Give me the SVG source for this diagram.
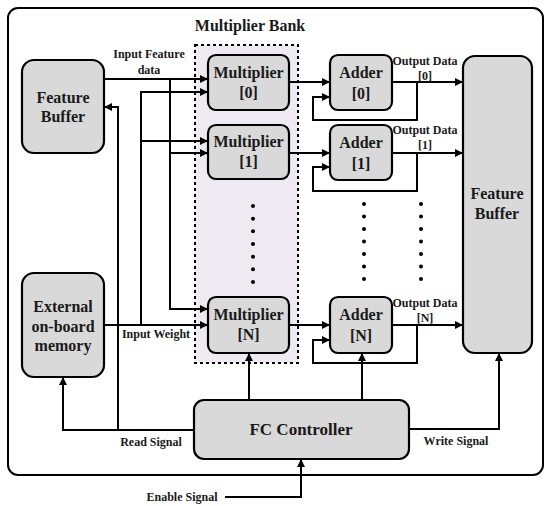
<svg xmlns="http://www.w3.org/2000/svg" width="550" height="506" viewBox="0 0 550 506">
<defs>
<marker id="ah" viewBox="0 0 10 10" refX="10" refY="5" markerWidth="8" markerHeight="8" markerUnits="userSpaceOnUse" orient="auto">
<path d="M0,0 L10,5 L0,10 Z" fill="#000"/>
</marker>
<style>
.box{fill:#d9d9d9;stroke:#000;stroke-width:2.2}
.ln{fill:none;stroke:#000;stroke-width:2}
.t{font-family:"Liberation Serif","Times New Roman",serif;font-weight:bold;fill:#1a1a1a;text-anchor:middle}
.big{font-size:16px}
.sm{font-size:12px}
.dot{fill:#000}
</style>
</defs>
<rect width="550" height="506" fill="#fff"/>
<rect x="8" y="8" width="535" height="467" rx="10" fill="#fff" stroke="#000" stroke-width="2"/>
<g id="bank">
<rect x="195" y="45" width="103" height="318" fill="#efeaf2" stroke="#000" stroke-width="2" stroke-dasharray="3,3"/>
<text class="t big" x="250" y="31">Multiplier Bank</text>
</g>
<g id="connectors">
<path class="ln" d="M104,79 H208" marker-end="url(#ah)"/>
<path class="ln" d="M170,79 V309 H208" marker-end="url(#ah)"/>
<path class="ln" d="M170,153 H208" marker-end="url(#ah)"/>
<path class="ln" d="M104,325 H208" marker-end="url(#ah)"/>
<path class="ln" d="M141,325 V92 H208" marker-end="url(#ah)"/>
<path class="ln" d="M141,141 H208" marker-end="url(#ah)"/>
<path class="ln" d="M194,430 H63 V377" marker-end="url(#ah)"/>
<path class="ln" d="M118,430 V107 H104" marker-end="url(#ah)"/>
<path class="ln" d="M289,82 H330" marker-end="url(#ah)"/>
<path class="ln" d="M289,153 H330" marker-end="url(#ah)"/>
<path class="ln" d="M289,325 H330" marker-end="url(#ah)"/>
<path class="ln" d="M392,82 H463" marker-end="url(#ah)"/>
<path class="ln" d="M417,82 V120 H313 V97 H330" marker-end="url(#ah)"/>
<path class="ln" d="M392,153 H463" marker-end="url(#ah)"/>
<path class="ln" d="M417,153 V191 H313 V167 H330" marker-end="url(#ah)"/>
<path class="ln" d="M392,325 H463" marker-end="url(#ah)"/>
<path class="ln" d="M417,325 V363 H313 V340 H330" marker-end="url(#ah)"/>
<path class="ln" d="M249,400 V353" marker-end="url(#ah)"/>
<path class="ln" d="M362,400 V353" marker-end="url(#ah)"/>
<path class="ln" d="M409,429 H499 V353" marker-end="url(#ah)"/>
<path class="ln" d="M225,497 H301 V459" marker-end="url(#ah)"/>
<text class="t sm" x="149" y="58">Input Feature</text>
<text class="t sm" x="149" y="74">data</text>
<text class="t sm" x="156" y="338">Input Weight</text>
<text class="t sm" x="425" y="65">Output Data</text>
<text class="t sm" x="425" y="80">[0]</text>
<text class="t sm" x="425" y="134">Output Data</text>
<text class="t sm" x="425" y="149">[1]</text>
<text class="t sm" x="425" y="307">Output Data</text>
<text class="t sm" x="425" y="322">[N]</text>
<text class="t sm" x="151" y="446">Read Signal</text>
<text class="t sm" x="456" y="445">Write Signal</text>
<text class="t sm" x="182" y="501">Enable Signal</text>
</g>
<g id="dots">
<circle class="dot" cx="253" cy="206" r="2"/><circle class="dot" cx="253" cy="218.7" r="2"/><circle class="dot" cx="253" cy="231.3" r="2"/><circle class="dot" cx="253" cy="244" r="2"/><circle class="dot" cx="253" cy="256.7" r="2"/><circle class="dot" cx="253" cy="269.3" r="2"/><circle class="dot" cx="253" cy="282" r="2"/>
<circle class="dot" cx="364" cy="204" r="2"/><circle class="dot" cx="364" cy="216.5" r="2"/><circle class="dot" cx="364" cy="229" r="2"/><circle class="dot" cx="364" cy="241.5" r="2"/><circle class="dot" cx="364" cy="254" r="2"/><circle class="dot" cx="364" cy="266.5" r="2"/><circle class="dot" cx="364" cy="279" r="2"/>
<circle class="dot" cx="421" cy="204" r="2"/><circle class="dot" cx="421" cy="216.5" r="2"/><circle class="dot" cx="421" cy="229" r="2"/><circle class="dot" cx="421" cy="241.5" r="2"/><circle class="dot" cx="421" cy="254" r="2"/><circle class="dot" cx="421" cy="266.5" r="2"/><circle class="dot" cx="421" cy="279" r="2"/>
</g>
<g id="feature-buffer-in">
<rect class="box" x="22" y="60" width="82" height="93" rx="12"/>
<text class="t big" x="63" y="103">Feature</text>
<text class="t big" x="63" y="122">Buffer</text>
</g>
<g id="external-memory">
<rect class="box" x="22" y="273" width="82" height="104" rx="12"/>
<text class="t big" x="63" y="312">External</text>
<text class="t big" x="63" y="332">on-board</text>
<text class="t big" x="63" y="351">memory</text>
</g>
<g id="mult0">
<rect class="box" x="208" y="55" width="81" height="55" rx="8"/>
<text class="t big" x="248.5" y="78">Multiplier</text>
<text class="t big" x="248.5" y="98">[0]</text>
</g>
<g id="mult1">
<rect class="box" x="208" y="125" width="81" height="54" rx="8"/>
<text class="t big" x="248.5" y="147">Multiplier</text>
<text class="t big" x="248.5" y="167">[1]</text>
</g>
<g id="multN">
<rect class="box" x="208" y="297" width="81" height="56" rx="8"/>
<text class="t big" x="248.5" y="320">Multiplier</text>
<text class="t big" x="248.5" y="340">[N]</text>
</g>
<g id="adder0">
<rect class="box" x="330" y="55" width="62" height="55" rx="8"/>
<text class="t big" x="361" y="78">Adder</text>
<text class="t big" x="361" y="99">[0]</text>
</g>
<g id="adder1">
<rect class="box" x="330" y="125" width="62" height="55" rx="8"/>
<text class="t big" x="361" y="148">Adder</text>
<text class="t big" x="361" y="169">[1]</text>
</g>
<g id="adderN">
<rect class="box" x="330" y="297" width="62" height="56" rx="8"/>
<text class="t big" x="361" y="320">Adder</text>
<text class="t big" x="361" y="341">[N]</text>
</g>
<g id="feature-buffer-out">
<rect class="box" x="463" y="56" width="69" height="297" rx="12"/>
<text class="t big" x="497" y="199">Feature</text>
<text class="t big" x="497" y="219">Buffer</text>
</g>
<g id="fc-controller">
<rect class="box" x="194" y="400" width="215" height="59" rx="10"/>
<text class="t" font-size="17" x="301" y="435">FC Controller</text>
</g>
</svg>
